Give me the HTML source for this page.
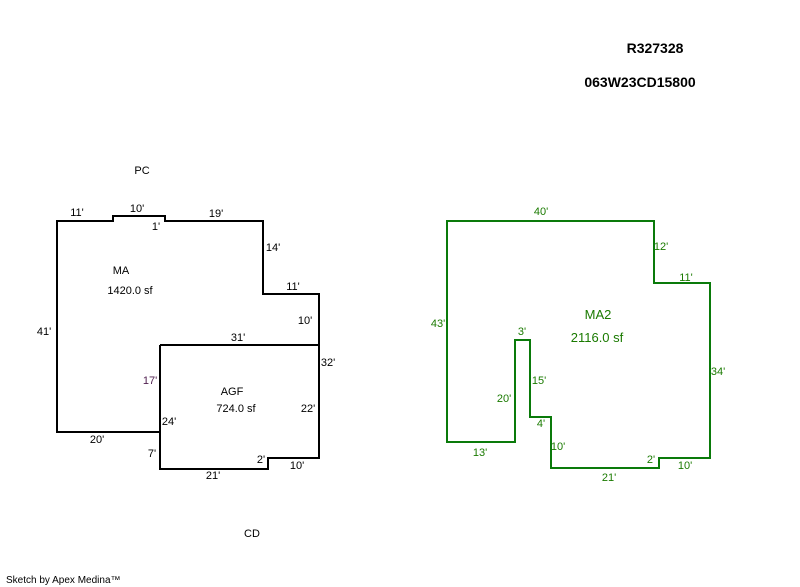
<!DOCTYPE html>
<html><head><meta charset="utf-8"><style>
html,body{margin:0;padding:0;background:#fff;}
svg{display:block;}
text{font-family:"Liberation Sans",Arial,sans-serif;font-size:11px;text-anchor:middle;}
.g text{fill:#1a7a00;}
</style></head><body>
<svg width="800" height="587" viewBox="0 0 800 587" xmlns="http://www.w3.org/2000/svg">
<text x="655" y="53" style="font-size:14px;font-weight:bold">R327328</text>
<text x="640" y="87" style="font-size:14px;font-weight:bold">063W23CD15800</text>

<polyline fill="none" stroke="#000" stroke-width="2" points="160,345 319,345"/>
<polygon fill="none" stroke="#000" stroke-width="2" points="57,221 113,221 113,216 165,216 165,221 263,221 263,294 319,294 319,458 268,458 268,469 160,469 160,432 57,432"/>
<line x1="160" y1="345" x2="160" y2="469" stroke="#000" stroke-width="2"/>

<g>
<text x="77" y="216">11'</text>
<text x="137" y="212">10'</text>
<text x="156" y="230">1'</text>
<text x="216" y="217">19'</text>
<text x="273" y="251">14'</text>
<text x="293" y="290">11'</text>
<text x="305" y="324">10'</text>
<text x="238" y="341">31'</text>
<text x="328" y="366">32'</text>
<text x="150" y="384" fill="#502050">17'</text>
<text x="169" y="425">24'</text>
<text x="308" y="412">22'</text>
<text x="97" y="443">20'</text>
<text x="152" y="457">7'</text>
<text x="261" y="463">2'</text>
<text x="297" y="469">10'</text>
<text x="213" y="479">21'</text>
<text x="44" y="335">41'</text>
<text x="121" y="274">MA</text>
<text x="130" y="294">1420.0 sf</text>
<text x="232" y="395">AGF</text>
<text x="236" y="412">724.0 sf</text>
<text x="142" y="174">PC</text>
<text x="252" y="537">CD</text>
</g>

<polygon fill="none" stroke="#0a7a0a" stroke-width="2" points="447,221 654,221 654,283 710,283 710,458 659,458 659,468 551,468 551,417 530,417 530,340 515,340 515,442 447,442"/>
<g class="g">
<text x="541" y="215">40'</text>
<text x="661" y="250">12'</text>
<text x="686" y="281">11'</text>
<text x="438" y="327">43'</text>
<text x="598" y="319" style="font-size:13px">MA2</text>
<text x="597" y="342" style="font-size:13px">2116.0 sf</text>
<text x="522" y="335">3'</text>
<text x="539" y="384">15'</text>
<text x="504" y="402">20'</text>
<text x="541" y="427">4'</text>
<text x="558" y="450">10'</text>
<text x="480" y="456">13'</text>
<text x="718" y="375">34'</text>
<text x="651" y="463">2'</text>
<text x="685" y="469">10'</text>
<text x="609" y="481">21'</text>
</g>

<text x="6" y="583" style="font-size:10px;text-anchor:start">Sketch by Apex Medina™</text>
</svg>
</body></html>
